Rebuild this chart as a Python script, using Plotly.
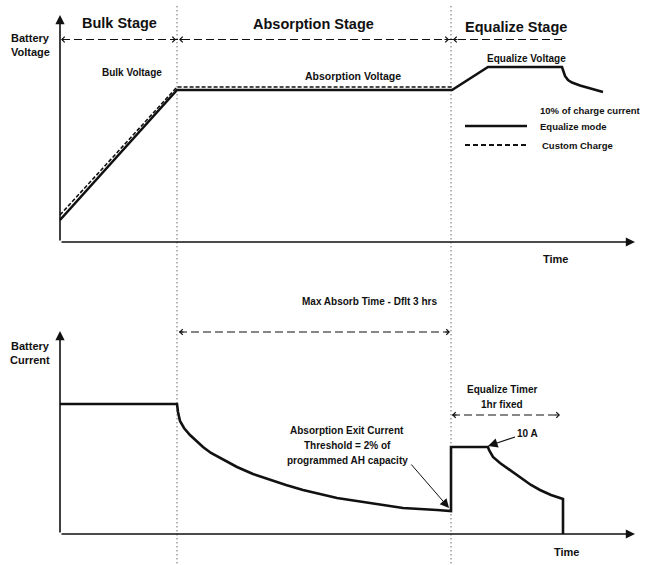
import plotly.graph_objects as go

# time axis in arbitrary units (0 = start of charge), levels in arbitrary units
stage_edges = [117, 391, 503]
stage_names = ["Bulk Stage", "Absorption Stage", "Equalize Stage"]
stage_title_t = [59, 253, 456]

# battery voltage, equalize mode (solid)
volt_eq_t = [0, 117, 392, 428, 502, 503, 505, 508, 512, 520, 530, 543]
volt_eq = [22, 152, 152, 175, 175, 171, 166, 162, 159.5, 156.5, 154, 150]
# battery voltage, custom charge (dashed)
volt_cc_t = [0, 117, 392]
volt_cc = [27, 155, 155]

# battery current
curr_t = [0, 117, 117.5, 118, 120, 124, 130, 136, 143, 151, 160, 177, 193, 210, 226, 243,
          260, 277, 310, 343, 377, 391,
          391, 428, 429, 433, 440, 447, 455, 463, 471, 480, 491, 503, 503]
curr = [130, 130, 126, 122, 113, 106, 99, 93, 87, 81, 76, 67, 60, 54, 49, 44,
        40, 36, 31, 26, 24, 23,
        87, 87, 84, 77, 71, 66, 60, 54, 49, 44, 39, 35, 0]

t_end = 575
v_top = 227
i_top = 203

FONT = "Liberation Sans, Arial, sans-serif"
black = "#111111"

fig = go.Figure()

fig.add_trace(go.Scatter(x=volt_eq_t, y=volt_eq, mode="lines", xaxis="x", yaxis="y",
                         line={"color": black, "width": 2.6}, hoverinfo="skip"))
fig.add_trace(go.Scatter(x=volt_cc_t, y=volt_cc, mode="lines", xaxis="x", yaxis="y",
                         line={"color": black, "width": 1.6, "dash": "4px,2px"}, hoverinfo="skip"))
fig.add_trace(go.Scatter(x=curr_t, y=curr, mode="lines", xaxis="x2", yaxis="y2",
                         line={"color": black, "width": 2.6}, hoverinfo="skip"))

# legend samples
fig.add_trace(go.Scatter(x=[405, 467], y=[116, 116], mode="lines", xaxis="x", yaxis="y",
                         line={"color": black, "width": 2.6}, hoverinfo="skip"))
fig.add_trace(go.Scatter(x=[405, 467], y=[97, 97], mode="lines", xaxis="x", yaxis="y",
                         line={"color": black, "width": 2, "dash": "5px,3px"}, hoverinfo="skip"))

shapes = []
for t in stage_edges[:2]:
    shapes.append(dict(type="line", xref="x", yref="paper", x0=t, x1=t, y0=0.003, y1=0.991,
                       line={"color": "#222222", "width": 1, "dash": "1px,3px"}))

# dimension lines
dims = [("x", "y", 2, 505, 202.5),
        ("x2", "y2", 119, 389, 202),
        ("x2", "y2", 392, 500, 119)]
for xr, yr, a, b, lvl in dims:
    shapes.append(dict(type="line", xref=xr, yref=yr, x0=a, x1=b, y0=lvl, y1=lvl,
                       line={"color": black, "width": 1.2, "dash": "8px,4px"}))

annotations = []


def chevron(xr, yr, t, lvl, direction):
    annotations.append(dict(xref=xr, yref=yr, x=t, y=lvl, ax=-6 * direction, ay=0,
                            text="", showarrow=True, arrowhead=4, arrowwidth=1,
                            arrowsize=1.1, arrowcolor=black))


chevron("x", "y", 1, 202.5, -1)
chevron("x", "y", 116, 202.5, 1)
chevron("x", "y", 119, 202.5, -1)
chevron("x", "y", 389, 202.5, 1)
chevron("x", "y", 393, 202.5, -1)
chevron("x2", "y2", 119, 202, -1)
chevron("x2", "y2", 390, 202, 1)
chevron("x2", "y2", 392, 119, -1)
chevron("x2", "y2", 500, 119, 1)


def axis_arrow(xr, yr, x0, y0, x1, y1):
    annotations.append(dict(xref=xr, yref=yr, axref=xr, ayref=yr, x=x1, y=y1, ax=x0, ay=y0,
                            text="", showarrow=True, arrowhead=2, arrowwidth=1.6,
                            arrowsize=1.15, arrowcolor=black))


axis_arrow("x", "y", 0, 0, 0, v_top)
axis_arrow("x", "y", 0, 0, t_end, 0)
axis_arrow("x2", "y2", 0, 0, 0, i_top)
axis_arrow("x2", "y2", 0, 0, t_end, 0)


def label(xr, yr, t, lvl, text, size=10, xanchor="center"):
    annotations.append(dict(xref=xr, yref=yr, x=t, y=lvl, text="<b>" + text + "</b>",
                            showarrow=False, xanchor=xanchor, yanchor="middle", align="center",
                            font={"family": FONT, "size": size, "color": black}))


for name, t, lvl in zip(stage_names, stage_title_t, [219, 218, 215]):
    label("x", "y", t, lvl, name, size=14.5)

label("x", "y", -30, 204, "Battery", size=11)
label("x", "y", -30, 190, "Voltage", size=11)
label("x", "y", 72, 170, "Bulk Voltage")
label("x", "y", 293, 166, "Absorption Voltage", size=10.5)
label("x", "y", 466, 184, "Equalize Voltage")
label("x", "y", 478, 132, "10% of charge current", size=9.5, xanchor="left")
label("x", "y", 478, 116, "Equalize mode", size=9.5, xanchor="left")
label("x", "y", 480, 97, "Custom Charge", size=9.5, xanchor="left")
label("x", "y", 495, -17, "Time", size=11)

label("x2", "y2", -30, 188, "Battery", size=11)
label("x2", "y2", -30, 174, "Current", size=11)
label("x2", "y2", 309, 233, "Max Absorb Time - Dflt 3 hrs")
label("x2", "y2", 442, 145, "Equalize Timer")
label("x2", "y2", 442, 130, "1hr fixed")
label("x2", "y2", 287, 104, "Absorption Exit Current")
label("x2", "y2", 287, 89, "Threshold = 2% of")
label("x2", "y2", 287, 74, "programmed AH capacity")
label("x2", "y2", 506, -18, "Time", size=11)

# pointer arrows
annotations.append(dict(xref="x2", yref="y2", axref="x2", ayref="y2", x=389, y=26, ax=350, ay=71,
                        text="", showarrow=True, arrowhead=2, arrowwidth=1,
                        arrowsize=1.8, arrowcolor=black))
annotations.append(dict(xref="x2", yref="y2", axref="x2", ayref="y2", x=428, y=88, ax=467, ay=101,
                        text="<b>10 A</b>", showarrow=True, arrowhead=2, arrowwidth=1.2,
                        arrowsize=1.6, arrowcolor=black,
                        font={"family": FONT, "size": 10, "color": black}))

fig.update_layout(
    width=652,
    height=565,
    margin={"l": 0, "r": 0, "t": 0, "b": 0},
    paper_bgcolor="white",
    plot_bgcolor="white",
    showlegend=False,
    xaxis={"domain": [0, 1], "range": [-60, 592], "visible": False, "anchor": "y"},
    yaxis={"domain": [0.5, 1], "range": [-40.5, 242], "visible": False, "anchor": "x"},
    xaxis2={"domain": [0, 1], "range": [-60, 592], "visible": False, "anchor": "y2"},
    yaxis2={"domain": [0, 0.5], "range": [-31, 251.5], "visible": False, "anchor": "x2"},
    shapes=shapes,
    annotations=annotations,
)

fig.write_html("out.html", config={"displayModeBar": False},
               post_script="document.body.style.margin='0';")
